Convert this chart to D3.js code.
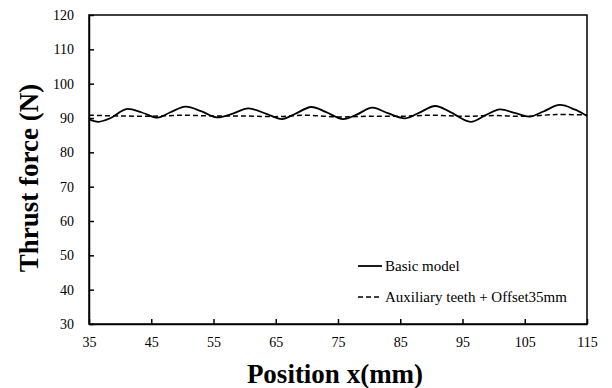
<!DOCTYPE html>
<html>
<head>
<meta charset="utf-8">
<script src="https://cdn.jsdelivr.net/npm/d3@7"></script>
<style>
  html, body { margin: 0; padding: 0; background: #fff; }
  svg { display: block; font-family: "Liberation Serif", "Times New Roman", serif; }
</style>
</head>
<body>
<svg id="chart" width="612" height="388"></svg>
<script>
// Basic model (solid)
var basicX = [35, 36.5, 38.5, 41, 43.5, 46, 48, 50.5, 53, 55.5, 58, 60.6, 63.5, 66, 68, 70.7, 73, 75.8, 78, 80.5, 83, 85.8, 88, 90.6, 93, 96.3, 98.8, 101, 103.5, 105.8, 108, 110.6, 113, 115];
var basicY = [89.6, 88.9, 90.0, 92.6, 91.6, 90.1, 91.6, 93.3, 92.0, 90.2, 91.2, 92.8, 91.2, 89.7, 91.1, 93.2, 91.8, 89.7, 91.0, 93.0, 91.4, 89.9, 91.5, 93.5, 91.8, 88.9, 90.9, 92.5, 91.4, 90.4, 91.9, 93.8, 92.5, 90.6];

// Auxiliary teeth + Offset35mm (dashed)
var auxX = [35, 40, 45, 50, 55, 60, 65, 70, 75, 80, 85, 90, 95, 100, 105, 110, 115];
var auxY = [90.8, 90.6, 90.5, 90.8, 90.6, 90.6, 90.4, 90.8, 90.3, 90.5, 90.5, 90.8, 90.5, 90.7, 90.5, 91.0, 90.9];

var xTicks = [35, 45, 55, 65, 75, 85, 95, 105, 115];
var yTicks = [30, 40, 50, 60, 70, 80, 90, 100, 110, 120];

var seriesNames = ['Basic model', 'Auxiliary teeth + Offset35mm'];

(function () {
  'use strict';

  var svg = d3.select('#chart');
  var pL = 89, pR = 587, pT = 15, pB = 324;
  var serif = '"Liberation Serif", "Times New Roman", serif';

  var x = d3.scaleLinear().domain([35, 115]).range([pL, pR]);
  var y = d3.scaleLinear().domain([30, 120]).range([pB, pT]);

  // frame
  svg.append('rect')
    .attr('x', pL).attr('y', pT)
    .attr('width', pR - pL).attr('height', pB - pT)
    .attr('fill', 'none').attr('stroke', '#000').attr('stroke-width', 1.5);

  // axes with inward ticks
  var xAxis = svg.append('g')
    .attr('transform', 'translate(0,' + pB + ')')
    .call(d3.axisBottom(x).tickValues(xTicks).tickSizeInner(-5).tickSizeOuter(0).tickPadding(13));
  var yAxis = svg.append('g')
    .attr('transform', 'translate(' + pL + ',0)')
    .call(d3.axisLeft(y).tickValues(yTicks).tickSizeInner(-5).tickSizeOuter(0).tickPadding(15));

  [xAxis, yAxis].forEach(function (a) {
    a.attr('font-family', serif);
    a.select('.domain').attr('stroke', '#000').attr('stroke-width', 1.5);
    a.selectAll('.tick line').attr('stroke', '#000').attr('stroke-width', 1.5);
    a.selectAll('.tick text')
      .attr('font-family', serif)
      .attr('font-size', 14)
      .attr('fill', '#000');
  });

  var line = d3.line()
    .x(function (d) { return x(d[0]); })
    .y(function (d) { return y(d[1]); })
    .curve(d3.curveCatmullRom.alpha(0.5));

  svg.append('path')
    .datum(auxX.map(function (v, i) { return [v, auxY[i]]; }))
    .attr('d', line)
    .attr('fill', 'none').attr('stroke', '#000')
    .attr('stroke-width', 1.5).attr('stroke-dasharray', '5,3');

  svg.append('path')
    .datum(basicX.map(function (v, i) { return [v, basicY[i]]; }))
    .attr('d', line)
    .attr('fill', 'none').attr('stroke', '#000')
    .attr('stroke-width', 1.8);

  // legend
  var legend = svg.append('g').attr('font-family', serif);
  [{ dash: null, yy: 266 }, { dash: '5,3', yy: 297 }].forEach(function (s, i) {
    legend.append('line')
      .attr('x1', 358).attr('x2', 382)
      .attr('y1', s.yy).attr('y2', s.yy)
      .attr('stroke', '#000').attr('stroke-width', s.dash ? 1.5 : 1.8)
      .attr('stroke-dasharray', s.dash);
    legend.append('text')
      .attr('x', 385).attr('y', s.yy + 5)
      .attr('font-size', 15)
      .text(seriesNames[i]);
  });

  // axis titles
  svg.append('text')
    .attr('x', 335).attr('y', 383)
    .attr('text-anchor', 'middle')
    .attr('font-family', serif)
    .attr('font-size', 27).attr('font-weight', 'bold')
    .text('Position x(mm)');

  svg.append('text')
    .attr('transform', 'translate(38,178) rotate(-90)')
    .attr('text-anchor', 'middle')
    .attr('font-family', serif)
    .attr('font-size', 27).attr('font-weight', 'bold')
    .text('Thrust force (N)');
})();
</script>
</body>
</html>
